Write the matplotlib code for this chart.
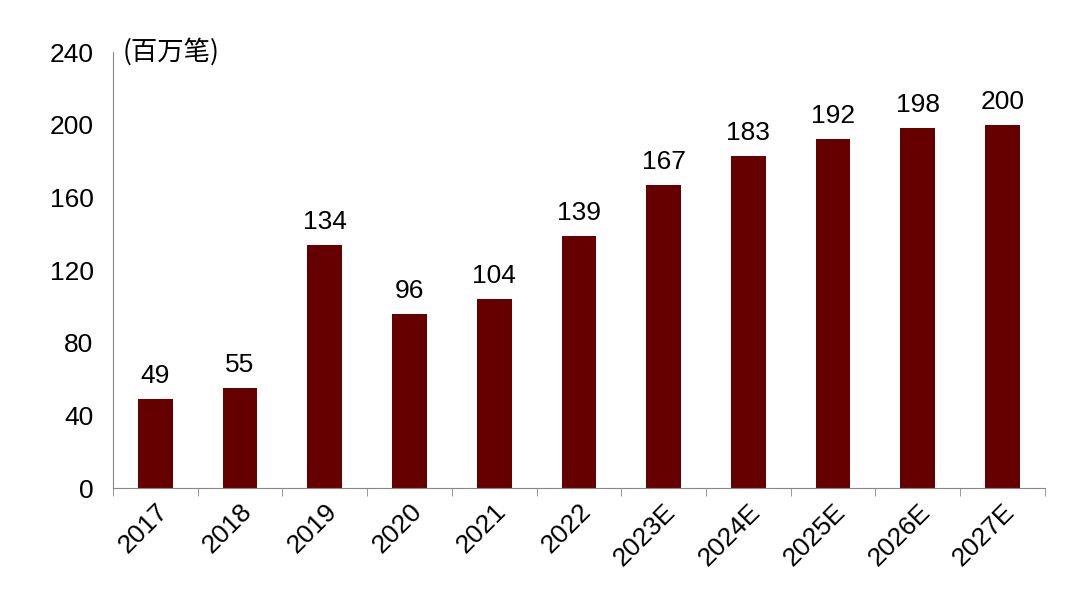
import matplotlib
matplotlib.use("Agg")
import matplotlib.pyplot as plt
import numpy as np

categories = ["2017","2018","2019","2020","2021","2022","2023E","2024E","2025E","2026E","2027E"]
values = [49,55,134,96,104,139,167,183,192,198,200]
yticks = [0,40,80,120,160,200,240]

plt.rcParams['font.family'] = ['Liberation Sans', 'Noto Sans CJK SC', 'DejaVu Sans']
fig = plt.figure(figsize=(10.71,6.14), dpi=100)
ax = fig.add_axes([0.1055,0.2052,0.870,0.710])
x = np.arange(len(categories))
ax.bar(x, values, width=0.41, color="#660000")
for xi, v in zip(x, values):
    ax.text(xi, v+6, str(v), ha="center", va="bottom", fontsize=19)
ax.set_xlim(-0.5, len(categories)-0.5)
ax.set_ylim(0, 240)
ax.set_yticks(yticks)
ax.tick_params(axis='y', length=0, labelsize=19, pad=14)
ax.set_xticks(x)
ax.set_xticklabels(categories, rotation=45, ha="right", rotation_mode="anchor", fontsize=19)
ax.tick_params(axis='x', length=0, pad=8)
ax.set_xticks(np.arange(-0.5, len(categories)), minor=True)
ax.tick_params(axis='x', which='minor', length=6, color="#888888")
for s in ["top","right"]:
    ax.spines[s].set_visible(False)
ax.spines["left"].set_color("#888888")
ax.spines["bottom"].set_color("#888888")
ax.text(0.01, 1.0, "(百万笔)", transform=ax.transAxes, fontsize=19, va="center", ha="left",
        family=['Noto Sans CJK SC','DejaVu Sans'])
fig.savefig("out.png", dpi=100)
